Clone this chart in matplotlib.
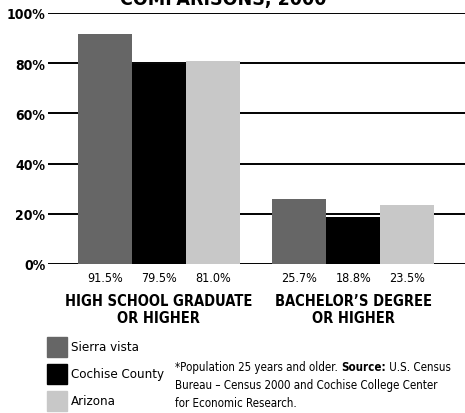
import matplotlib
matplotlib.use("Agg")
import matplotlib.pyplot as plt
import numpy as np
from matplotlib.patches import Rectangle

plt.rcParams['font.family'] = ['DejaVu Sans']
plt.rcParams['font.stretch'] = 'condensed'

# Educational attainment, population 25+ (percent)
categories = ['HIGH SCHOOL GRADUATE\nOR HIGHER', 'BACHELOR\u2019S DEGREE\nOR HIGHER']
areas = ['Sierra vista', 'Cochise County', 'Arizona']
sierra_vista = [91.5, 25.7]
cochise_county = [79.5, 18.8]
arizona = [81.0, 23.5]
colors = ['#666666', '#000000', '#c8c8c8']
yticks = [0, 20, 40, 60, 80, 100]

W, H = 465, 414
fig = plt.figure(figsize=(W / 100, H / 100), dpi=100)
ax = fig.add_axes([48 / W, (H - 265) / H, 417 / W, 251 / H])

group_x = np.array([0.0, 3.6])
width = 1.0
series = [sierra_vista, cochise_county, arizona]
for i, (vals, col) in enumerate(zip(series, colors)):
    xs = group_x + (i - 1) * width
    ax.bar(xs, vals, width=width, color=col, zorder=2)
    for x, v in zip(xs, vals):
        ax.text(x, -2.6, f'{v:.1f}%', ha='center', va='top', fontsize=9)

for t in yticks:
    ax.axhline(t, color='black', lw=1.4, zorder=1)

ax.set_xlim(-2.05, 5.67)
ax.set_ylim(0, 100)
ax.set_yticks(yticks)
ax.set_yticklabels([f'{t}%' for t in yticks], fontsize=10, fontweight='bold')
ax.tick_params(axis='y', length=0, pad=2)
ax.set_xticks([])
for s in ax.spines.values():
    s.set_visible(False)

for x, c in zip(group_x, categories):
    ax.text(x, -11.5, c, ha='center', va='top', fontsize=10.5, fontweight='bold',
            linespacing=1.2)

# title, mostly cropped off the top of the figure
fig.text(223 / W, 1 - 5 / H, 'COMPARISONS, 2000', ha='center', va='baseline',
         fontsize=14, fontweight='bold')

# legend swatches
for j, (name, col) in enumerate(zip(areas, colors)):
    y0 = 338 + j * 27
    fig.patches.append(Rectangle((47 / W, 1 - (y0 + 20) / H), 20 / W, 20 / H,
                                 transform=fig.transFigure, color=col))
    fig.text(71 / W, 1 - (y0 + 10) / H, name, ha='left', va='center', fontsize=9.5)

# footnote: first line is built from pieces so "Source:" can be bold
renderer = fig.canvas.get_renderer()
note_size = 8.3
x = 175
pieces = [('*Population 25 years and older. ', 'normal'),
          ('Source:', 'bold'),
          (' U.S. Census', 'normal')]
for txt, wt in pieces:
    t = fig.text(x / W, 1 - 371 / H, txt, ha='left', va='baseline',
                 fontsize=note_size, fontweight=wt)
    x += t.get_window_extent(renderer).width
fig.text(175 / W, 1 - 389 / H, 'Bureau \u2013 Census 2000 and Cochise College Center',
         ha='left', va='baseline', fontsize=note_size)
fig.text(175 / W, 1 - 407 / H, 'for Economic Research.',
         ha='left', va='baseline', fontsize=note_size)

fig.savefig('out.png', dpi=100)
